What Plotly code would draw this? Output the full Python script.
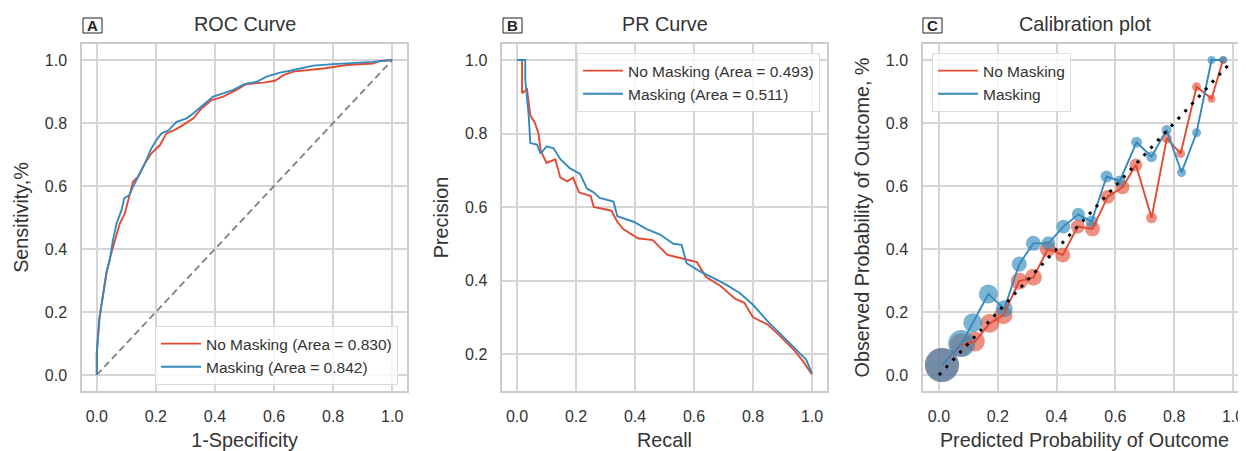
import plotly.graph_objects as go
import numpy as np

# ---------------- DATA ----------------
# ROC curves (1-Specificity, Sensitivity)
roc_nomask_fpr = [0.0, 0.0, 0.008, 0.021, 0.033, 0.046, 0.061, 0.078, 0.095, 0.110, 0.123, 0.140,
                  0.163, 0.185, 0.214, 0.236, 0.264, 0.293, 0.327, 0.355, 0.389, 0.428, 0.473,
                  0.507, 0.564, 0.603, 0.632, 0.665, 0.767, 0.846, 0.935, 0.958, 1.0]
roc_nomask_tpr = [0.0, 0.069, 0.175, 0.259, 0.323, 0.376, 0.429, 0.481, 0.513, 0.566, 0.614, 0.630,
                  0.672, 0.704, 0.730, 0.767, 0.778, 0.794, 0.815, 0.847, 0.873, 0.884, 0.905,
                  0.924, 0.928, 0.934, 0.952, 0.963, 0.973, 0.984, 0.989, 0.997, 1.0]
roc_mask_fpr = [0.0, 0.0, 0.010, 0.019, 0.033, 0.044, 0.055, 0.067, 0.084, 0.093, 0.110, 0.123,
                0.146, 0.163, 0.185, 0.202, 0.219, 0.242, 0.270, 0.304, 0.327, 0.355, 0.394,
                0.428, 0.462, 0.502, 0.541, 0.575, 0.620, 0.654, 0.733, 0.800, 0.935, 1.0]
roc_mask_tpr = [0.0, 0.069, 0.185, 0.238, 0.328, 0.365, 0.429, 0.481, 0.524, 0.561, 0.571, 0.598,
                0.640, 0.672, 0.720, 0.746, 0.767, 0.776, 0.804, 0.815, 0.831, 0.852, 0.884,
                0.894, 0.905, 0.924, 0.931, 0.947, 0.960, 0.966, 0.982, 0.987, 0.994, 1.0]

# PR curves (Recall, Precision)
pr_nomask_rec = [0.0, 0.017, 0.017, 0.034, 0.045, 0.060, 0.073, 0.080, 0.100, 0.130, 0.147, 0.170,
                 0.190, 0.210, 0.250, 0.260, 0.320, 0.340, 0.360, 0.410, 0.460, 0.510, 0.560,
                 0.610, 0.640, 0.690, 0.740, 0.770, 0.800, 0.850, 0.890, 0.940, 0.970, 1.0]
pr_nomask_prec = [1.0, 1.0, 0.91, 0.92, 0.85, 0.83, 0.80, 0.755, 0.72, 0.73, 0.68, 0.67,
                  0.68, 0.64, 0.63, 0.60, 0.59, 0.56, 0.54, 0.515, 0.51, 0.47, 0.46,
                  0.45, 0.41, 0.385, 0.35, 0.34, 0.30, 0.28, 0.25, 0.21, 0.18, 0.144]
pr_mask_rec = [0.0, 0.028, 0.028, 0.040, 0.045, 0.068, 0.080, 0.100, 0.124, 0.147, 0.180, 0.214,
               0.237, 0.260, 0.280, 0.327, 0.340, 0.395, 0.440, 0.485, 0.530, 0.558, 0.575,
               0.620, 0.665, 0.710, 0.755, 0.800, 0.850, 0.890, 0.936, 0.980, 1.0]
pr_mask_prec = [1.0, 1.0, 0.946, 0.846, 0.774, 0.77, 0.745, 0.765, 0.76, 0.73, 0.705, 0.69,
                0.65, 0.64, 0.625, 0.615, 0.575, 0.56, 0.54, 0.525, 0.50, 0.497, 0.447,
                0.425, 0.407, 0.388, 0.366, 0.334, 0.289, 0.257, 0.22, 0.185, 0.148]

# Calibration (mean predicted probability, observed fraction, bin counts)
cal_nomask_pred = [0.010, 0.075, 0.122, 0.173, 0.219, 0.273, 0.321, 0.370, 0.421, 0.472,
                   0.522, 0.574, 0.624, 0.670, 0.723, 0.775, 0.822, 0.876, 0.927, 0.966]
cal_nomask_obs = [0.032, 0.095, 0.106, 0.164, 0.190, 0.298, 0.310, 0.400, 0.381, 0.471,
                  0.464, 0.566, 0.596, 0.667, 0.499, 0.751, 0.703, 0.915, 0.877, 1.0]
cal_nomask_n = [1156, 529, 400, 361, 324, 289, 289, 256, 225, 196,
                225, 196, 196, 169, 121, 100, 81, 81, 64, 49]
cal_mask_pred = [0.010, 0.077, 0.115, 0.168, 0.222, 0.273, 0.321, 0.372, 0.423, 0.474,
                 0.519, 0.570, 0.615, 0.672, 0.723, 0.774, 0.825, 0.876, 0.927, 0.967]
cal_mask_obs = [0.032, 0.100, 0.166, 0.257, 0.210, 0.352, 0.418, 0.418, 0.471, 0.510,
                0.487, 0.630, 0.616, 0.739, 0.693, 0.778, 0.643, 0.769, 1.0, 1.0]
cal_mask_n = [1156, 729, 361, 361, 289, 225, 225, 196, 196, 169,
              144, 144, 121, 121, 121, 100, 81, 81, 64, 64]

ticks = [0.0, 0.2, 0.4, 0.6, 0.8, 1.0]
pr_ticks = [0.2, 0.4, 0.6, 0.8, 1.0]

# ---------------- STYLE ----------------
RED = "#E24A33"
BLUE = "#348ABD"
FONT = "Liberation Sans, Arial, sans-serif"
TXT = "#333333"
OFF = 8            # default page body margin
FW, FH = 1246 - OFF, 451 - OFF


def px_x(p):
    return (p - OFF) / FW


def px_y(p):
    return (FH - (p - OFF)) / FH


fig = go.Figure()

# Panel A: ROC
fig.add_trace(go.Scatter(x=[0, 1], y=[0, 1], mode="lines", showlegend=False,
                         line=dict(color="#808080", width=1.8, dash="7px,4px"),
                         xaxis="x", yaxis="y"))
fig.add_trace(go.Scatter(x=roc_nomask_fpr, y=roc_nomask_tpr, mode="lines",
                         name="No Masking (Area = 0.830)", line=dict(color=RED, width=1.9),
                         xaxis="x", yaxis="y", legend="legend"))
fig.add_trace(go.Scatter(x=roc_mask_fpr, y=roc_mask_tpr, mode="lines",
                         name="Masking (Area = 0.842)", line=dict(color=BLUE, width=1.9),
                         xaxis="x", yaxis="y", legend="legend"))

# Panel B: PR
fig.add_trace(go.Scatter(x=pr_nomask_rec, y=pr_nomask_prec, mode="lines",
                         name="No Masking (Area = 0.493)", line=dict(color=RED, width=1.9),
                         xaxis="x2", yaxis="y2", legend="legend2"))
fig.add_trace(go.Scatter(x=pr_mask_rec, y=pr_mask_prec, mode="lines",
                         name="Masking (Area = 0.511)", line=dict(color=BLUE, width=1.9),
                         xaxis="x2", yaxis="y2", legend="legend2"))

# Panel C: Calibration
sz_red = [np.sqrt(n) for n in cal_nomask_n]
sz_blue = [np.sqrt(n) for n in cal_mask_n]
fig.add_trace(go.Scatter(x=cal_nomask_pred, y=cal_nomask_obs, mode="markers", showlegend=False,
                         marker=dict(color=RED, size=sz_red, opacity=0.62, line=dict(width=0)),
                         xaxis="x3", yaxis="y3"))
fig.add_trace(go.Scatter(x=cal_mask_pred, y=cal_mask_obs, mode="markers", showlegend=False,
                         marker=dict(color=BLUE, size=sz_blue, opacity=0.65, line=dict(width=0)),
                         xaxis="x3", yaxis="y3"))
fig.add_trace(go.Scatter(x=cal_nomask_pred, y=cal_nomask_obs, mode="lines", name="No Masking",
                         line=dict(color=RED, width=1.9), xaxis="x3", yaxis="y3", legend="legend3"))
fig.add_trace(go.Scatter(x=cal_mask_pred, y=cal_mask_obs, mode="lines", name="Masking",
                         line=dict(color=BLUE, width=1.9), xaxis="x3", yaxis="y3", legend="legend3"))
fig.add_trace(go.Scatter(x=[0, 0.99], y=[0, 0.99], mode="lines", showlegend=False,
                         line=dict(color="black", width=3, dash="3px,7px"),
                         xaxis="x3", yaxis="y3"))

ax_common = dict(showgrid=True, gridcolor="#d5d5d5", gridwidth=1.5, showline=True,
                 linecolor="#cccccc", linewidth=1.5, mirror=True, zeroline=False, ticks="",
                 tickfont=dict(size=16, color=TXT, family=FONT), tickformat=".1f",
                 ticklabelstandoff=10)
title_font = dict(size=19.8, color=TXT, family=FONT)

ydom = [px_y(390.75), px_y(44.25)]
leg_common = dict(bgcolor="rgba(255,255,255,0.8)", bordercolor="#dcdcdc", borderwidth=1,
                  font=dict(size=15.5, color=TXT, family=FONT), tracegroupgap=0, itemwidth=40)

fig.update_layout(
    width=FW, height=FH, autosize=False,
    margin=dict(l=0, r=0, t=0, b=0),
    paper_bgcolor="white", plot_bgcolor="white",
    font=dict(family=FONT, color=TXT),
    xaxis=dict(ax_common, domain=[px_x(82), px_x(407)], range=[-0.05, 1.05], tickvals=ticks,
               anchor="y", title=dict(text="1-Specificity", font=title_font, standoff=10)),
    yaxis=dict(ax_common, domain=ydom, range=[-0.05, 1.05], tickvals=ticks, anchor="x",
               title=dict(text="Sensitivity,%", font=title_font, standoff=11)),
    xaxis2=dict(ax_common, domain=[px_x(502.25), px_x(826.75)], range=[-0.05, 1.05],
                tickvals=ticks, anchor="y2",
                title=dict(text="Recall", font=title_font, standoff=10)),
    yaxis2=dict(ax_common, domain=ydom, range=[0.1, 1.043], tickvals=pr_ticks, anchor="x2",
                title=dict(text="Precision", font=title_font, standoff=11)),
    xaxis3=dict(ax_common, domain=[px_x(923), 1.0], range=[-0.0544, 1.0442], tickvals=ticks,
                anchor="y3",
                title=dict(text="Predicted Probability of Outcome", font=title_font, standoff=10)),
    yaxis3=dict(ax_common, domain=ydom, range=[-0.05, 1.05], tickvals=ticks, anchor="x3",
                mirror=False,
                title=dict(text="Observed Probability of Outcome, %", font=title_font, standoff=11)),
    legend=dict(leg_common, x=px_x(398), y=px_y(385), xanchor="right", yanchor="bottom"),
    legend2=dict(leg_common, x=px_x(820), y=px_y(53), xanchor="right", yanchor="top"),
    legend3=dict(leg_common, x=px_x(932), y=px_y(53), xanchor="left", yanchor="top"),
)

# Titles and panel labels
titles = [("ROC Curve", 244.5), ("PR Curve", 664.5), ("Calibration plot", 1085)]
for t, cx in titles:
    fig.add_annotation(text=t, x=px_x(cx), y=px_y(24), xref="paper", yref="paper",
                       xanchor="center", yanchor="middle", showarrow=False,
                       font=dict(size=19.8, color=TXT, family=FONT))

labels = [("A", 83), ("B", 503), ("C", 923)]
for lab, left in labels:
    fig.add_shape(type="rect", xref="paper", yref="paper",
                  x0=px_x(left), x1=px_x(left + 19), y0=px_y(33), y1=px_y(18),
                  line=dict(color="#222222", width=1), fillcolor="white", layer="above")
    fig.add_annotation(text="<b>%s</b>" % lab, x=px_x(left + 9.5), y=px_y(25.5),
                       xref="paper", yref="paper", xanchor="center", yanchor="middle",
                       showarrow=False, font=dict(size=15, color="#222222", family=FONT))

fig.write_html("out.html")
